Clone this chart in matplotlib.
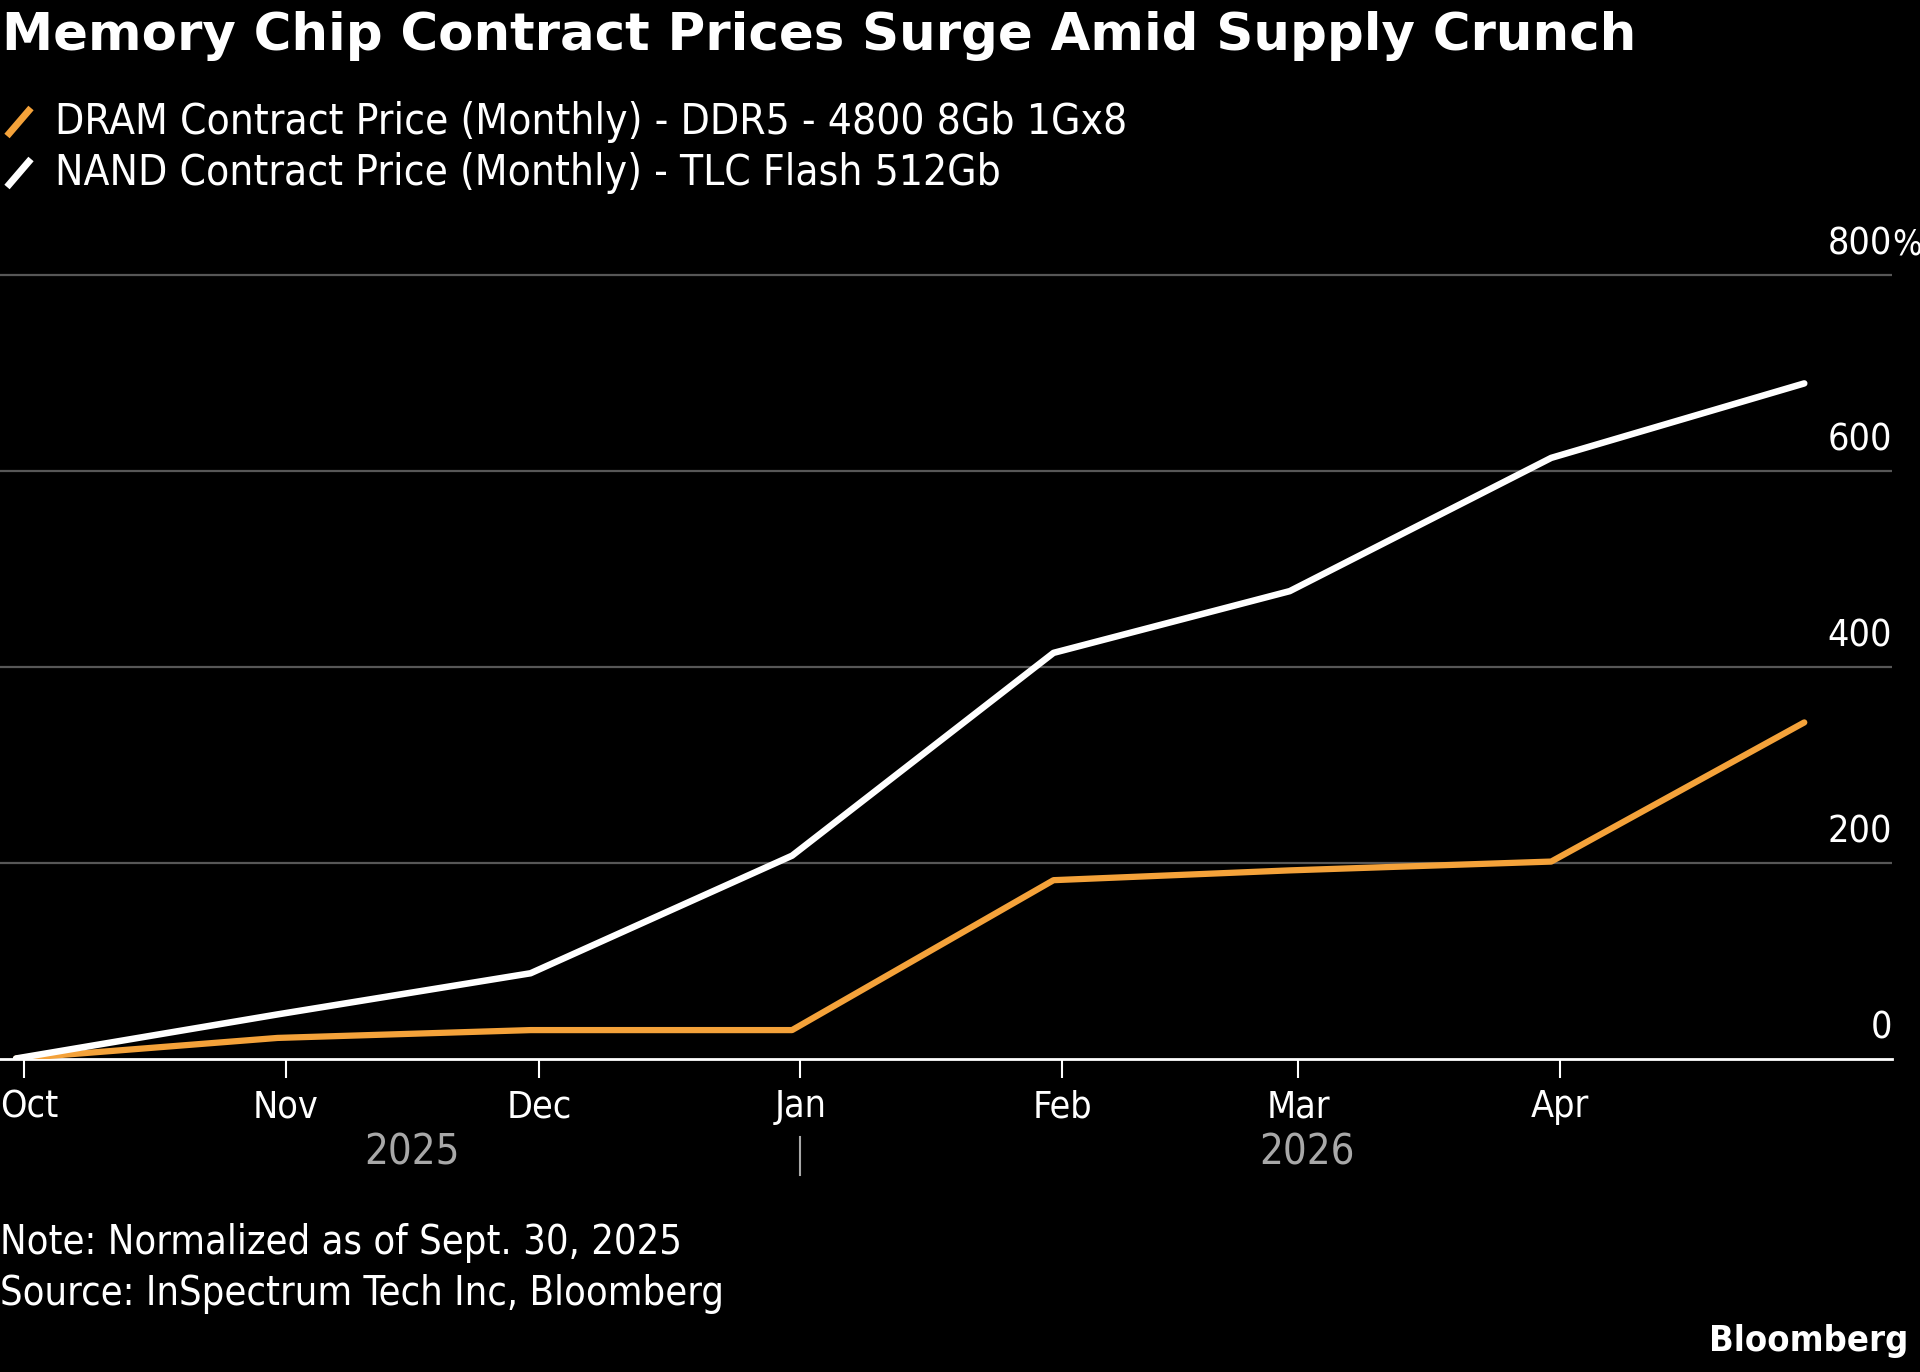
import datetime as dt
import matplotlib
matplotlib.use("Agg")
import matplotlib.pyplot as plt
from matplotlib.lines import Line2D
from matplotlib.transforms import ScaledTranslation

# month-end contract prices, % change vs Sept. 30, 2025
dates = [dt.datetime(2025, 9, 30), dt.datetime(2025, 10, 31), dt.datetime(2025, 11, 30),
         dt.datetime(2025, 12, 31), dt.datetime(2026, 1, 31), dt.datetime(2026, 2, 28),
         dt.datetime(2026, 3, 31), dt.datetime(2026, 4, 30)]
dram = [0, 21, 29, 29, 182, 192, 201, 343]
nand = [0, 45, 87, 207, 414, 477, 613, 689]

month_ticks = [dt.datetime(2025, 10, 1), dt.datetime(2025, 11, 1), dt.datetime(2025, 12, 1),
               dt.datetime(2026, 1, 1), dt.datetime(2026, 2, 1), dt.datetime(2026, 3, 1),
               dt.datetime(2026, 4, 1)]
month_labels = ['Oct', 'Nov', 'Dec', 'Jan', 'Feb', 'Mar', 'Apr']
y_ticks = [0, 200, 400, 600, 800]
years = ['2025', '2026']
year_pos = [dt.datetime(2025, 11, 16), dt.datetime(2026, 3, 2)]

title = "Memory Chip Contract Prices Surge Amid Supply Crunch"
legend_labels = ["DRAM Contract Price (Monthly) - DDR5 - 4800 8Gb 1Gx8",
                 "NAND Contract Price (Monthly) - TLC Flash 512Gb"]
note = "Note: Normalized as of Sept. 30, 2025"
source = "Source: InSpectrum Tech Inc, Bloomberg"

ORANGE = '#f4a23a'
WHITE = '#ffffff'
GRID = '#575757'
YEAR_GRAY = '#a8a8a8'

W, H = 1920, 1372
plt.rcParams['font.family'] = 'DejaVu Sans'
plt.rcParams['font.stretch'] = 'condensed'


def fx(px):
    return px / W


def fy(py):
    return 1 - py / H


fig = plt.figure(figsize=(W / 100, H / 100), dpi=100, facecolor='black')
ax = fig.add_axes([0, fy(1058.5), fx(1892), 0.5856], facecolor='black')

ax.plot(dates, dram, color=ORANGE, lw=4.5, solid_capstyle='round', solid_joinstyle='round', zorder=3)
ax.plot(dates, nand, color=WHITE, lw=4.7, solid_capstyle='round', solid_joinstyle='round', zorder=4)

ax.set_xlim(dt.datetime(2025, 10, 1) - dt.timedelta(days=2.9),
            dt.datetime(2025, 10, 1) + dt.timedelta(days=221.4))
ax.set_ylim(0, 820)

for s in ['top', 'left', 'right']:
    ax.spines[s].set_visible(False)
ax.spines['bottom'].set_color(WHITE)
ax.spines['bottom'].set_linewidth(2.0)

ax.set_yticks([])
for v in y_ticks[1:]:
    ax.axhline(v, color=GRID, lw=1.6, zorder=1)
for v in y_ticks:
    ax.annotate(str(v), xy=(1, v), xycoords=ax.get_yaxis_transform(),
                xytext=(0, 20), textcoords='offset pixels',
                ha='right', va='baseline', color=WHITE, fontsize=27, annotation_clip=False)
ax.annotate('%', xy=(1, y_ticks[-1]), xycoords=ax.get_yaxis_transform(),
            xytext=(0, 20), textcoords='offset pixels',
            ha='left', va='baseline', color=WHITE, fontsize=25, annotation_clip=False)

ax.set_xticks(month_ticks, month_labels)
ax.tick_params(axis='x', colors=WHITE, length=14, width=1.5, pad=8, labelsize=27)
# keep "Oct" inside the left edge
first = ax.get_xticklabels()[0]
first.set_transform(first.get_transform() + ScaledTranslation(0.05, 0, fig.dpi_scale_trans))

for lab, d in zip(years, year_pos):
    ax.annotate(lab, xy=(d, 0), xycoords=('data', 'axes fraction'),
                xytext=(0, -94), textcoords='offset pixels',
                ha='center', va='center', color=YEAR_GRAY, fontsize=30, annotation_clip=False)
ax.plot([month_ticks[3], month_ticks[3]], [-0.098, -0.145], transform=ax.get_xaxis_transform(),
        color=YEAR_GRAY, lw=1.5, clip_on=False)

# header
fig.text(fx(2), fy(36), title, color=WHITE, fontsize=37, fontweight='bold',
         ha='left', va='center', fontstretch='normal')
for i, (lab, col) in enumerate(zip(legend_labels, [ORANGE, WHITE])):
    yc = 122 + i * 51
    fig.add_artist(Line2D([fx(7), fx(31)], [fy(yc + 14), fy(yc - 14)], color=col, lw=5,
                          solid_capstyle='butt'))
    fig.text(fx(55), fy(yc), lab, color=WHITE, fontsize=30.4, ha='left', va='center')

# footer
fig.text(fx(0), fy(1243), note, color=WHITE, fontsize=28.5, ha='left', va='center')
fig.text(fx(0), fy(1294), source, color=WHITE, fontsize=28.5, ha='left', va='center')
fig.text(fx(1908), fy(1341), 'Bloomberg', color=WHITE, fontsize=26, fontweight='bold',
         ha='right', va='center')

fig.savefig('out.png', dpi=100, facecolor='black')
